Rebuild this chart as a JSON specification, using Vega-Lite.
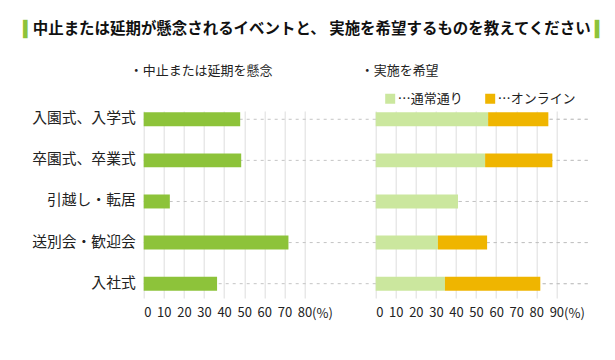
{
  "$schema": "https://vega.github.io/schema/vega-lite/v6.json",
  "padding": {"left": 22.7, "top": 20, "right": 5, "bottom": 5},
  "bounds": "flush",
  "spacing": 0,
  "config": {
    "font": "Noto Sans CJK JP",
    "view": {"stroke": null},
    "concat": {"spacing": 0}
  },
  "title": {
    "text": "▎　　　　　　　　　　　　　　　　　　　　　　　　　　　　　　▎",
    "fontSize": 18.45,
    "color": "#8dc33a",
    "anchor": "middle",
    "dx": 6.5,
    "offset": -16.9
  },
  "datasets": {
    "concern": [
      {"cat": "入園式、入学式", "value": 48},
      {"cat": "卒園式、卒業式", "value": 48.5},
      {"cat": "引越し・転居", "value": 13},
      {"cat": "送別会・歓迎会", "value": 72},
      {"cat": "入社式", "value": 36.5}
    ],
    "wish": [
      {"cat": "入園式、入学式", "type": "通常通り", "value": 56},
      {"cat": "入園式、入学式", "type": "オンライン", "value": 30},
      {"cat": "卒園式、卒業式", "type": "通常通り", "value": 54.5},
      {"cat": "卒園式、卒業式", "type": "オンライン", "value": 33.5},
      {"cat": "引越し・転居", "type": "通常通り", "value": 41},
      {"cat": "引越し・転居", "type": "オンライン", "value": 0},
      {"cat": "送別会・歓迎会", "type": "通常通り", "value": 31},
      {"cat": "送別会・歓迎会", "type": "オンライン", "value": 24.5},
      {"cat": "入社式", "type": "通常通り", "value": 34.5},
      {"cat": "入社式", "type": "オンライン", "value": 47.5}
    ]
  },
  "vconcat": [
    {
      "title": {
        "text": "中止または延期が懸念されるイベントと、 実施を希望するものを教えてください",
        "fontSize": 15.47,
        "fontWeight": "bold",
        "color": "#111111",
        "anchor": "middle",
        "dx": 1.8,
        "offset": 27
      },
      "bounds": "flush",
      "spacing": 0,
      "hconcat": [
        {
          "width": 232,
          "height": 187,
          "data": {"name": "concern"},
          "title": {"text": "・中止または延期を懸念", "anchor": "start", "frame": "group", "dx": -14, "offset": 33, "fontSize": 13, "fontWeight": "normal", "color": "#222222"},
          "encoding": {
            "y": {
              "field": "cat", "type": "nominal", "sort": null,
              "scale": {"paddingInner": 0.66, "paddingOuter": 0.105, "align": 0.15},
              "axis": {"title": null, "domain": false, "ticks": false, "labelPadding": 8.5, "labelFontSize": 14.8, "labelColor": "#222222", "grid": false}
            }
          },
          "layer": [
            {"mark": {"type": "rule", "strokeDash": [3, 4], "color": "#c4c4c4", "strokeWidth": 1}},
            {
              "mark": {"type": "bar", "color": "#8dc33a"},
              "encoding": {
                "x": {
                  "field": "value", "type": "quantitative",
                  "scale": {"domain": [0, 115.4], "nice": false},
                  "axis": {"values": [0, 10, 20, 30, 40, 50, 60, 70, 80], "grid": true, "gridColor": "#dddddd", "domain": false, "ticks": false, "labelFontSize": 13, "labelPadding": 9, "labelColor": "#222222", "title": "(%)", "titleX": 178.3, "titleY": 16, "titleBaseline": "middle", "titleAlign": "center", "titleFontSize": 13, "titleFontWeight": "normal", "titleColor": "#222222"}
                }
              }
            }
          ]
        },
        {
          "width": 212,
          "height": 187,
          "data": {"name": "wish"},
          "title": {"text": "・実施を希望", "anchor": "start", "frame": "group", "dx": -15, "offset": 33, "fontSize": 13, "fontWeight": "normal", "color": "#222222"},
          "encoding": {
            "y": {
              "field": "cat", "type": "nominal", "sort": null,
              "scale": {"paddingInner": 0.66, "paddingOuter": 0.105, "align": 0.15},
              "axis": null
            }
          },
          "layer": [
            {"mark": {"type": "rule", "strokeDash": [3, 4], "color": "#c4c4c4", "strokeWidth": 1}},
            {
              "mark": {"type": "bar"},
              "encoding": {
                "x": {
                  "field": "value", "type": "quantitative", "stack": "zero",
                  "scale": {"domain": [0, 105.6], "nice": false},
                  "axis": {"values": [0, 10, 20, 30, 40, 50, 60, 70, 80, 90], "grid": true, "gridColor": "#dddddd", "domain": false, "ticks": false, "labelFontSize": 13, "labelPadding": 9, "labelColor": "#222222", "title": "(%)", "titleX": 198.3, "titleY": 16, "titleBaseline": "middle", "titleAlign": "center", "titleFontSize": 13, "titleFontWeight": "normal", "titleColor": "#222222"}
                },
                "color": {
                  "field": "type", "type": "nominal",
                  "scale": {"domain": ["通常通り", "オンライン"], "range": ["#cbe79e", "#efb500"]},
                  "legend": {"orient": "none", "legendX": 240, "legendY": -19, "direction": "horizontal", "title": null, "symbolType": "square", "symbolSize": 100, "symbolStrokeWidth": 0, "symbolOpacity": 1, "labelFontSize": 13, "labelOffset": 1, "labelColor": "#222222", "columnPadding": 20, "labelExpr": "'…' + datum.label"}
                },
                "order": {"field": "type", "sort": "descending"}
              }
            }
          ]
        }
      ]
    }
  ]
}
